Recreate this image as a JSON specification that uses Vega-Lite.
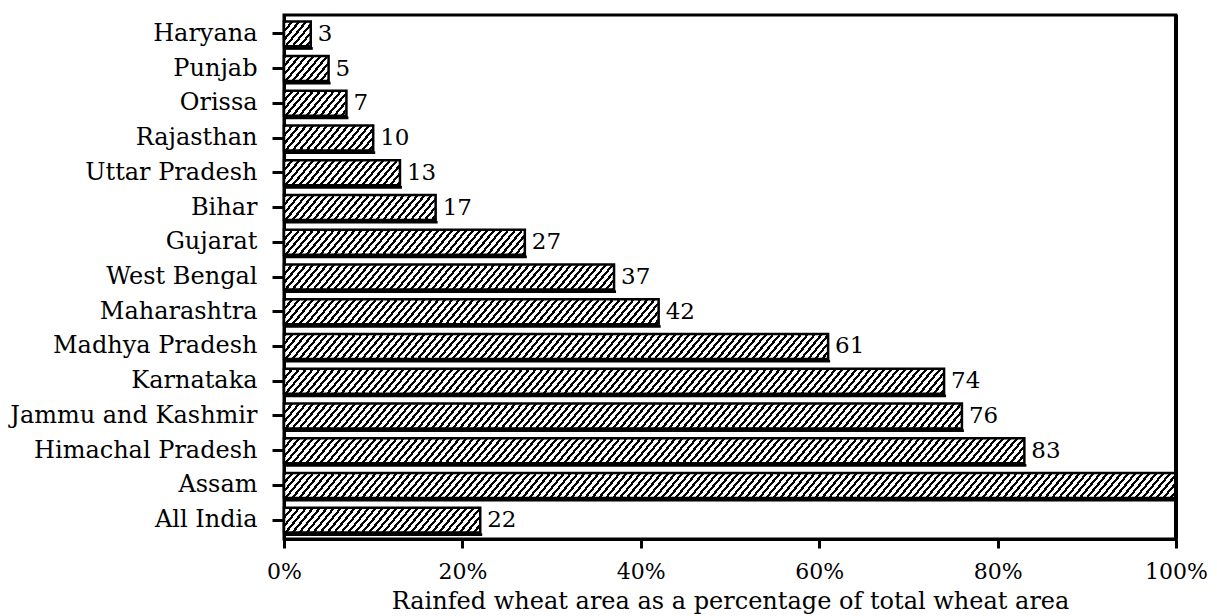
{
  "$schema": "https://vega.github.io/schema/vega-lite/v6.json",
  "width": 892,
  "height": 524,
  "autosize": {"type": "none"},
  "padding": {"left": 284, "top": 15, "right": 41, "bottom": 77},
  "background": "white",
  "params": [
    {
      "name": "hatch",
      "value": {
        "gradient": "linear",
        "x1": 0, "y1": 0, "x2": 1.08422, "y2": 0.101644,
        "stops": [
          {"offset": 0, "color": "#000"}, {"offset": 0.012, "color": "#000"}, {"offset": 0.012, "color": "#fff"}, {"offset": 0.02857, "color": "#fff"},
          {"offset": 0.02857, "color": "#000"}, {"offset": 0.04057, "color": "#000"}, {"offset": 0.04057, "color": "#fff"}, {"offset": 0.05714, "color": "#fff"},
          {"offset": 0.05714, "color": "#000"}, {"offset": 0.06914, "color": "#000"}, {"offset": 0.06914, "color": "#fff"}, {"offset": 0.08571, "color": "#fff"},
          {"offset": 0.08571, "color": "#000"}, {"offset": 0.09771, "color": "#000"}, {"offset": 0.09771, "color": "#fff"}, {"offset": 0.11429, "color": "#fff"},
          {"offset": 0.11429, "color": "#000"}, {"offset": 0.12629, "color": "#000"}, {"offset": 0.12629, "color": "#fff"}, {"offset": 0.14286, "color": "#fff"},
          {"offset": 0.14286, "color": "#000"}, {"offset": 0.15486, "color": "#000"}, {"offset": 0.15486, "color": "#fff"}, {"offset": 0.17143, "color": "#fff"},
          {"offset": 0.17143, "color": "#000"}, {"offset": 0.18343, "color": "#000"}, {"offset": 0.18343, "color": "#fff"}, {"offset": 0.2, "color": "#fff"},
          {"offset": 0.2, "color": "#000"}, {"offset": 0.212, "color": "#000"}, {"offset": 0.212, "color": "#fff"}, {"offset": 0.22857, "color": "#fff"},
          {"offset": 0.22857, "color": "#000"}, {"offset": 0.24057, "color": "#000"}, {"offset": 0.24057, "color": "#fff"}, {"offset": 0.25714, "color": "#fff"},
          {"offset": 0.25714, "color": "#000"}, {"offset": 0.26914, "color": "#000"}, {"offset": 0.26914, "color": "#fff"}, {"offset": 0.28571, "color": "#fff"},
          {"offset": 0.28571, "color": "#000"}, {"offset": 0.29771, "color": "#000"}, {"offset": 0.29771, "color": "#fff"}, {"offset": 0.31429, "color": "#fff"},
          {"offset": 0.31429, "color": "#000"}, {"offset": 0.32629, "color": "#000"}, {"offset": 0.32629, "color": "#fff"}, {"offset": 0.34286, "color": "#fff"},
          {"offset": 0.34286, "color": "#000"}, {"offset": 0.35486, "color": "#000"}, {"offset": 0.35486, "color": "#fff"}, {"offset": 0.37143, "color": "#fff"},
          {"offset": 0.37143, "color": "#000"}, {"offset": 0.38343, "color": "#000"}, {"offset": 0.38343, "color": "#fff"}, {"offset": 0.4, "color": "#fff"},
          {"offset": 0.4, "color": "#000"}, {"offset": 0.412, "color": "#000"}, {"offset": 0.412, "color": "#fff"}, {"offset": 0.42857, "color": "#fff"},
          {"offset": 0.42857, "color": "#000"}, {"offset": 0.44057, "color": "#000"}, {"offset": 0.44057, "color": "#fff"}, {"offset": 0.45714, "color": "#fff"},
          {"offset": 0.45714, "color": "#000"}, {"offset": 0.46914, "color": "#000"}, {"offset": 0.46914, "color": "#fff"}, {"offset": 0.48571, "color": "#fff"},
          {"offset": 0.48571, "color": "#000"}, {"offset": 0.49771, "color": "#000"}, {"offset": 0.49771, "color": "#fff"}, {"offset": 0.51429, "color": "#fff"},
          {"offset": 0.51429, "color": "#000"}, {"offset": 0.52629, "color": "#000"}, {"offset": 0.52629, "color": "#fff"}, {"offset": 0.54286, "color": "#fff"},
          {"offset": 0.54286, "color": "#000"}, {"offset": 0.55486, "color": "#000"}, {"offset": 0.55486, "color": "#fff"}, {"offset": 0.57143, "color": "#fff"},
          {"offset": 0.57143, "color": "#000"}, {"offset": 0.58343, "color": "#000"}, {"offset": 0.58343, "color": "#fff"}, {"offset": 0.6, "color": "#fff"},
          {"offset": 0.6, "color": "#000"}, {"offset": 0.612, "color": "#000"}, {"offset": 0.612, "color": "#fff"}, {"offset": 0.62857, "color": "#fff"},
          {"offset": 0.62857, "color": "#000"}, {"offset": 0.64057, "color": "#000"}, {"offset": 0.64057, "color": "#fff"}, {"offset": 0.65714, "color": "#fff"},
          {"offset": 0.65714, "color": "#000"}, {"offset": 0.66914, "color": "#000"}, {"offset": 0.66914, "color": "#fff"}, {"offset": 0.68571, "color": "#fff"},
          {"offset": 0.68571, "color": "#000"}, {"offset": 0.69771, "color": "#000"}, {"offset": 0.69771, "color": "#fff"}, {"offset": 0.71429, "color": "#fff"},
          {"offset": 0.71429, "color": "#000"}, {"offset": 0.72629, "color": "#000"}, {"offset": 0.72629, "color": "#fff"}, {"offset": 0.74286, "color": "#fff"},
          {"offset": 0.74286, "color": "#000"}, {"offset": 0.75486, "color": "#000"}, {"offset": 0.75486, "color": "#fff"}, {"offset": 0.77143, "color": "#fff"},
          {"offset": 0.77143, "color": "#000"}, {"offset": 0.78343, "color": "#000"}, {"offset": 0.78343, "color": "#fff"}, {"offset": 0.8, "color": "#fff"},
          {"offset": 0.8, "color": "#000"}, {"offset": 0.812, "color": "#000"}, {"offset": 0.812, "color": "#fff"}, {"offset": 0.82857, "color": "#fff"},
          {"offset": 0.82857, "color": "#000"}, {"offset": 0.84057, "color": "#000"}, {"offset": 0.84057, "color": "#fff"}, {"offset": 0.85714, "color": "#fff"},
          {"offset": 0.85714, "color": "#000"}, {"offset": 0.86914, "color": "#000"}, {"offset": 0.86914, "color": "#fff"}, {"offset": 0.88571, "color": "#fff"},
          {"offset": 0.88571, "color": "#000"}, {"offset": 0.89771, "color": "#000"}, {"offset": 0.89771, "color": "#fff"}, {"offset": 0.91429, "color": "#fff"},
          {"offset": 0.91429, "color": "#000"}, {"offset": 0.92629, "color": "#000"}, {"offset": 0.92629, "color": "#fff"}, {"offset": 0.94286, "color": "#fff"},
          {"offset": 0.94286, "color": "#000"}, {"offset": 0.95486, "color": "#000"}, {"offset": 0.95486, "color": "#fff"}, {"offset": 0.97143, "color": "#fff"},
          {"offset": 0.97143, "color": "#000"}, {"offset": 0.98343, "color": "#000"}, {"offset": 0.98343, "color": "#fff"}, {"offset": 1, "color": "#fff"}
        ]
      }
    }
  ],
  "data": {"values": [
    {"state": "Haryana", "value": 3},
    {"state": "Punjab", "value": 5},
    {"state": "Orissa", "value": 7},
    {"state": "Rajasthan", "value": 10},
    {"state": "Uttar Pradesh", "value": 13},
    {"state": "Bihar", "value": 17},
    {"state": "Gujarat", "value": 27},
    {"state": "West Bengal", "value": 37},
    {"state": "Maharashtra", "value": 42},
    {"state": "Madhya Pradesh", "value": 61},
    {"state": "Karnataka", "value": 74},
    {"state": "Jammu and Kashmir", "value": 76},
    {"state": "Himachal Pradesh", "value": 83},
    {"state": "Assam", "value": 100},
    {"state": "All India", "value": 22}
  ]},
  "layer": [
    {
      "mark": {"type": "bar", "fill": "black", "xOffset": 2, "x2Offset": 2, "yOffset": 3.5},
      "encoding": {
        "y": {
          "field": "state",
          "type": "nominal",
          "sort": null,
          "title": null,
          "scale": {"paddingInner": 0.2816, "paddingOuter": 0.184}
        },
        "x": {
          "field": "value",
          "type": "quantitative",
          "scale": {"domain": [0, 100], "nice": false},
          "axis": {
            "title": "Rainfed wheat area as a percentage of total wheat area",
            "values": [0, 20, 40, 60, 80, 100],
            "labelExpr": "datum.value + '%'"
          }
        },
        "x2": {"datum": 0}
      }
    },
    {
      "mark": {"type": "bar", "fill": {"expr": "hatch"}, "strokeWidth": 0},
      "encoding": {
        "y": {"field": "state", "type": "nominal", "sort": null, "title": null},
        "x": {"datum": 0, "type": "quantitative"}, "x2": {"datum": 25}
      }
    },
    {
      "mark": {"type": "bar", "fill": {"expr": "hatch"}, "strokeWidth": 0},
      "encoding": {
        "y": {"field": "state", "type": "nominal", "sort": null, "title": null},
        "x": {"datum": 25, "type": "quantitative"}, "x2": {"datum": 50}
      }
    },
    {
      "mark": {"type": "bar", "fill": {"expr": "hatch"}, "strokeWidth": 0},
      "encoding": {
        "y": {"field": "state", "type": "nominal", "sort": null, "title": null},
        "x": {"datum": 50, "type": "quantitative"}, "x2": {"datum": 75}
      }
    },
    {
      "mark": {"type": "bar", "fill": {"expr": "hatch"}, "strokeWidth": 0},
      "encoding": {
        "y": {"field": "state", "type": "nominal", "sort": null, "title": null},
        "x": {"datum": 75, "type": "quantitative"}, "x2": {"datum": 100}
      }
    },
    {
      "mark": {"type": "bar", "fill": "white", "stroke": "white", "strokeWidth": 1.5},
      "encoding": {
        "y": {"field": "state", "type": "nominal", "sort": null, "title": null},
        "x": {"field": "value", "type": "quantitative"}, "x2": {"datum": 100}
      }
    },
    {
      "mark": {"type": "bar", "fill": "white", "fillOpacity": 0, "stroke": "black", "strokeWidth": 2.5},
      "encoding": {
        "y": {"field": "state", "type": "nominal", "sort": null, "title": null},
        "x": {"field": "value", "type": "quantitative"}, "x2": {"datum": 0}
      }
    },
    {
      "transform": [{"filter": "datum.value < 100"}],
      "mark": {"type": "text", "align": "left", "baseline": "middle", "dx": 7, "fontSize": 23, "font": "DejaVu Serif", "color": "black"},
      "encoding": {
        "y": {"field": "state", "type": "nominal", "sort": null, "title": null},
        "x": {"field": "value", "type": "quantitative"},
        "text": {"field": "value", "type": "quantitative"}
      }
    },
    {
      "mark": {"type": "rule", "color": "black", "strokeWidth": 3},
      "encoding": {"x": {"datum": 100, "type": "quantitative"}}
    }
  ],
  "config": {
    "font": "DejaVu Serif",
    "view": {"stroke": "black", "strokeWidth": 3},
    "axis": {
      "domainColor": "black",
      "domainWidth": 3,
      "tickColor": "black",
      "tickWidth": 3,
      "labelColor": "black",
      "titleColor": "black",
      "labelFont": "DejaVu Serif",
      "titleFont": "DejaVu Serif",
      "grid": false
    },
    "axisX": {
      "tickSize": 9,
      "labelFontSize": 22,
      "labelPadding": 13,
      "labelFlush": false,
      "titleFontSize": 24,
      "titleFontWeight": "normal",
      "titlePadding": 7
    },
    "axisY": {
      "tickSize": 12,
      "labelFontSize": 24,
      "labelPadding": 15,
      "labelLimit": 400
    }
  }
}
